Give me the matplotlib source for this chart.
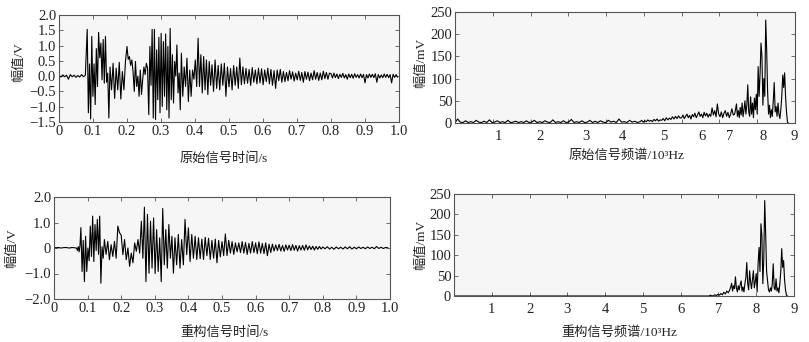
import numpy as np
import matplotlib
matplotlib.use("Agg")
import matplotlib.pyplot as plt

# ---------------- data ----------------
# Original time signal: segments (start, end) and extreme values (V)
tl_bounds = [0.0, 0.083, 0.15, 0.2, 0.264, 0.36, 0.45, 0.55, 0.66, 0.8, 1.0]
tl_seg0 = [0.02, -0.03, 0.04, -0.02, 0.03, -0.1, 0.05, -0.02, 0.03, -0.04, 0.02, -0.03, 0.05, -0.02, 0.03]
tl_seg1 = [1.53, -1.2, 0.4, -1.4, 1.3, -0.66, 0.4, -0.93, 0.9, -0.34, 1.43, 0.6, 1.08, -0.12, 1.2, -0.23, 1.3, -0.2, 0.1, -1.37]
tl_seg2 = [0.3, -0.45, 0.42, -0.73, 0.26, -0.45, 0.45, -0.75, 0.15, -0.45, 0.48]
tl_seg3 = [0.97, 0.55, 0.64, 0.35, 0.53, 0.15, -0.5, 0.48, -0.34, 0.0, -0.66, 0.2, -0.6, -0.1, 0.3, 0.05, 0.42, 0.26]
tl_seg4 = [-1.26, 0.97, -0.3, 1.53, -1.37, 1.53, -1.42, 0.86, -0.77, 1.27, -1.2, 1.4, -0.99, 1.13, -0.66,
           1.38, -1.1, 0.97, -1.37, 1.56, -0.77, 0.7, -0.88, 0.48, 0.0, 1.02, -0.55, 0.1, -1.1]
tl_seg5 = [0.75, -0.66, 0.3, -0.34, 0.59, -0.83, 0.2, -0.66, 0.2, -0.1, 0.53, -0.34, 1.24, -0.34, 0.7,
           -0.55, 0.64, -0.45, 0.53, -0.6, 0.48, -0.3]
tl_seg6 = [0.37, -0.5, 0.53, -0.4, 0.35, -0.45, 0.4, -0.3, 0.42, -0.66, 0.3, -0.35, 0.25, -0.45, 0.35,
           -0.3, 0.3, -0.4, 0.59, -0.28, 0.3, -0.25]
tl_seg7 = [0.25, -0.23, 0.22, -0.3, 0.28, -0.2, 0.2, -0.25, 0.26, -0.22, 0.24, -0.28, 0.2, -0.18, 0.26,
           -0.25, 0.22, -0.3, 0.18, -0.4, 0.2, -0.15, 0.22, -0.2]
tl_seg8 = [0.15, -0.18, 0.12, -0.15, 0.18, -0.1, 0.14, -0.16, 0.1, -0.12, 0.16, -0.14, 0.12, -0.2, 0.15,
           -0.1, 0.13, -0.15, 0.1, -0.12, 0.18, -0.1, 0.12, -0.14, 0.1, -0.12, 0.16, -0.08, 0.12, -0.1, 0.1]
tl_seg9 = [0.08, -0.06, 0.1, -0.05, 0.07, -0.08, 0.06, -0.04, 0.09, -0.06, 0.05, -0.1, 0.07, -0.05, 0.06,
           -0.07, 0.08, -0.04, 0.05, -0.06, 0.07, -0.05, 0.06, -0.22, 0.05, -0.06, 0.07, -0.04, 0.06, -0.05,
           0.08, -0.2, 0.05, -0.06, 0.04, -0.05, 0.07, -0.04, 0.06, -0.05, 0.05, -0.22, 0.06, -0.04, 0.05, -0.03]
tl_segs = [tl_seg0, tl_seg1, tl_seg2, tl_seg3, tl_seg4, tl_seg5, tl_seg6, tl_seg7, tl_seg8, tl_seg9]

# Reconstructed time signal
bl_bounds = [0.0, 0.067, 0.08, 0.15, 0.26, 0.36, 0.43, 0.55, 0.66, 0.8, 1.0]
bl_seg0 = [0.02, 0.01, 0.02, 0.0, 0.01, 0.02, 0.01, 0.0, 0.02, 0.01]
bl_seg1 = [0.0, -0.1, 0.05, -0.15, 0.1]
bl_seg2 = [0.8, -0.92, 0.3, -1.32, 0.46, -0.92, 0.0, -0.5, 0.86, -0.33, 1.25, -0.53, 0.92, -0.1, 1.12,
           -0.25, 1.25, -1.38, 0.05, -0.4]
bl_seg3 = [0.33, -0.25, 0.26, -0.46, 0.13, -0.33, 0.26, -0.4, 0.86, 0.6, 0.5, -0.26, 0.33, -0.46, 0.0,
           -0.72, -0.2, -0.58, 0.2, -0.13, 0.33, -0.2]
bl_seg4 = [1.05, -0.4, 1.6, -1.32, 1.32, -0.99, 1.05, -0.79, 1.18, -1.0, 0.72, -0.92, 0.4, -1.32, 1.55,
           -0.66, 0.72, -0.79, 0.92, -0.4, 0.46, -0.99]
bl_seg5 = [0.4, -0.66, 0.53, -0.79, 0.33, -0.66, 1.12, -0.26, 0.79, -0.53, 0.53, -0.4, 0.46, -0.45]
bl_seg6 = [0.4, -0.42, 0.35, -0.45, 0.42, -0.3, 0.38, -0.45, 0.3, -0.4, 0.35, -0.58, 0.3, -0.35, 0.25,
           -0.3, 0.55, -0.3, 0.3, -0.2, 0.25, -0.25, 0.2, -0.15]
bl_seg7 = [0.2, -0.18, 0.25, -0.2, 0.22, -0.25, 0.18, -0.2, 0.25, -0.18, 0.2, -0.22, 0.24, -0.2, 0.18,
           -0.22, 0.2, -0.3, 0.15, -0.18, 0.15, -0.12]
bl_seg8 = [0.12, -0.1, 0.14, -0.12, 0.1, -0.13, 0.12, -0.08, 0.11, -0.1, 0.13, -0.09, 0.1, -0.12, 0.09,
           -0.08, 0.1, -0.09, 0.12, -0.07, 0.08, -0.06, 0.07, -0.08, 0.06, -0.05, 0.06, -0.04]
bl_seg9 = [0.04, -0.03, 0.05, -0.04, 0.03, -0.05, 0.04, -0.03, 0.03, -0.04, 0.04, -0.03, 0.05, -0.04,
           0.03, -0.03, 0.04, -0.02, 0.03, -0.03, 0.04, -0.02, 0.03, -0.03, 0.06, -0.02, 0.03, -0.02, 0.02, 0.01]
bl_segs = [bl_seg0, bl_seg1, bl_seg2, bl_seg3, bl_seg4, bl_seg5, bl_seg6, bl_seg7, bl_seg8, bl_seg9]

# Original spectrum (kHz, mV)
tr_bounds = [0.0, 4.9, 6.0, 7.4, 8.85]
tr_segA = [1, 9, 2, 1, 5, 1, 3, 1, 6, 2, 1, 4, 1, 7, 1, 2, 5, 1, 3, 1, 6, 1, 2, 4, 1, 3, 1, 5, 1, 2, 6, 1,
           3, 1, 5, 2, 1, 7, 1, 3, 1, 5, 1, 2, 8, 1, 3, 1, 5, 1, 2, 6, 1, 4, 1, 5, 2, 1, 6, 2, 4, 1, 9, 2,
           3, 1, 6, 2, 4, 1]
tr_segB = [3, 6, 2, 5, 3, 7, 4, 6, 3, 8, 5, 9, 4, 7, 6, 10, 5, 12, 7, 11, 8, 14, 9, 15, 10, 16, 11]
tr_segC = [12, 18, 10, 15, 20, 12, 17, 9, 19, 14, 22, 12, 18, 25, 15, 20, 12, 24, 16, 22, 13, 20, 15, 34,
           18, 28, 14, 43, 20, 14, 25, 12, 22, 28, 15, 24, 12, 20, 32, 18]
tr_segD = [20, 30, 43, 15, 28, 12, 35, 18, 45, 14, 30, 50, 20, 40, 86, 25, 15, 59, 20, 45, 12, 56, 30, 65,
           20, 127, 60, 110, 180, 150, 40, 100, 60, 232, 165, 70, 20, 40, 12, 30, 15, 50, 91, 25, 37, 15,
           45, 20, 10, 30, 60, 108, 80, 113, 60, 25, 2, 0]
tr_segs = [tr_segA, tr_segB, tr_segC, tr_segD]
tr_tick_vals = [1, 2, 3, 4, 5, 6, 7, 8, 9]
tr_label_pos = [1.16, 2.25, 3.47, 4.44, 5.53, 6.53, 7.27, 8.15, 8.99]

# Reconstructed spectrum
br_bounds = [0.0, 6.75, 7.3, 8.85]
br_segA = [0, 0, 0, 0, 0, 0, 0, 0, 0, 0]
br_segB = [0, 2, 0, 1, 3, 1, 4, 2, 6, 3, 9, 5, 12, 8]
br_segC = [15, 22, 31, 12, 25, 18, 47, 20, 10, 25, 15, 28, 37, 12, 22, 10, 30, 45, 82, 30, 15, 62, 35, 18,
           40, 62, 20, 35, 55, 10, 80, 119, 60, 177, 148, 30, 90, 234, 152, 60, 37, 15, 10, 20, 12, 30, 79,
           20, 15, 42, 12, 20, 8, 30, 60, 116, 70, 87, 40, 15, 2, 0]
br_segs = [br_segA, br_segB, br_segC]


def build(bounds, segs):
    xs, ys = [], []
    for a, b, v in zip(bounds[:-1], bounds[1:], segs):
        xs.append(np.linspace(a, b, len(v), endpoint=False))
        ys.append(np.asarray(v, float))
    return np.concatenate(xs), np.concatenate(ys)


# ---------------- style ----------------
FAM = ['Liberation Serif', 'Noto Sans CJK SC', 'DejaVu Sans']
plt.rcParams['font.family'] = FAM
plt.rcParams['axes.unicode_minus'] = True
TXT = '#222222'
FS = 10.5
LFS = 9.5
BG = '#f6f6f6'

fig = plt.figure(figsize=(8.09, 3.42), dpi=100)
fig.patch.set_facecolor('white')

ax_tl = fig.add_axes([59/809, 1-122/342, 340/809, 107/342])
ax_bl = fig.add_axes([54/809, 1-299/342, 336/809, 102/342])
ax_tr = fig.add_axes([455/809, 1-123/342, 340/809, 111/342])
ax_br = fig.add_axes([454/809, 1-296/342, 340/809, 102/342])


def style(ax):
    ax.set_facecolor(BG)
    for s in ax.spines.values():
        s.set_color('#555555')
        s.set_linewidth(0.8)
    ax.tick_params(direction='in', length=3, width=0.6, color='#555555',
                   top=True, right=True, labelsize=FS, labelcolor=TXT, pad=2)


# top-left
t, v = build(tl_bounds, tl_segs)
ax_tl.plot(t, v, color='black', lw=0.8)
ax_tl.set_xlim(0, 1.0)
ax_tl.set_ylim(-1.5, 2.0)
tl_xt = [0, 0.1, 0.2, 0.3, 0.4, 0.5, 0.6, 0.7, 0.8, 0.9, 1.0]
tl_xl = ['0', '0.1', '0.2', '0.3', '0.4', '0.5', '0.6', '0.7', '0.8', '0.9', '1.0']
ax_tl.set_xticks(tl_xt, tl_xl)
tl_yt = [-1.5, -1.0, -0.5, 0.0, 0.5, 1.0, 1.5, 2.0]
ax_tl.set_yticks(tl_yt, ['\u22121.5', '\u22121.0', '\u22120.5', '0.0', '0.5', '1.0', '1.5', '2.0'])
style(ax_tl)
ax_tl.set_xlabel('原始信号时间/s', fontsize=LFS, color=TXT, va='center')
ax_tl.xaxis.set_label_coords(0.485, -0.34)
ax_tl.set_ylabel('幅值/V', fontsize=LFS, color=TXT, va='center')
ax_tl.yaxis.set_label_coords(-0.118, 0.56)

# bottom-left
t, v = build(bl_bounds, bl_segs)
ax_bl.plot(t, v, color='black', lw=0.8)
ax_bl.set_xlim(0, 1.0)
ax_bl.set_ylim(-2.0, 2.0)
ax_bl.set_xticks(tl_xt, tl_xl)
ax_bl.set_yticks([-2, -1, 0, 1, 2], ['\u22122.0', '\u22121.0', '0', '1.0', '2.0'])
style(ax_bl)
ax_bl.set_xlabel('重构信号时间/s', fontsize=LFS, color=TXT, va='center')
ax_bl.xaxis.set_label_coords(0.506, -0.33)
ax_bl.set_ylabel('幅值/V', fontsize=LFS, color=TXT, va='center')
ax_bl.yaxis.set_label_coords(-0.125, 0.5)

# top-right
f, a = build(tr_bounds, tr_segs)
ax_tr.plot(f, a, color='black', lw=0.8)
ax_tr.set_xlim(0, 9)
ax_tr.set_ylim(0, 250)
ax_tr.set_xticks(tr_tick_vals, [''] * len(tr_tick_vals))
ax_tr.set_xticks(tr_label_pos, [str(k) for k in tr_tick_vals], minor=True)
ax_tr.set_yticks([0, 50, 100, 150, 200, 250])
style(ax_tr)
ax_tr.tick_params(axis='x', which='minor', length=0, labelsize=FS, labelcolor=TXT, pad=5,
                  top=False)
ax_tr.set_xlabel('原始信号频谱/10³Hz', fontsize=LFS, color=TXT, va='center')
ax_tr.xaxis.set_label_coords(0.503, -0.29)
ax_tr.set_ylabel('幅值/mV', fontsize=LFS, color=TXT, va='center')
ax_tr.yaxis.set_label_coords(-0.1, 0.54)

# bottom-right
f, a = build(br_bounds, br_segs)
ax_br.plot(f, a, color='black', lw=0.8)
ax_br.set_xlim(0, 9)
ax_br.set_ylim(0, 250)
ax_br.set_xticks(tr_tick_vals)
ax_br.set_yticks([0, 50, 100, 150, 200, 250])
style(ax_br)
ax_br.tick_params(axis='x', pad=5)
ax_br.set_xlabel('重构信号频谱/10³Hz', fontsize=LFS, color=TXT, va='center')
ax_br.xaxis.set_label_coords(0.485, -0.36)
ax_br.set_ylabel('幅值/mV', fontsize=LFS, color=TXT, va='center')
ax_br.yaxis.set_label_coords(-0.098, 0.5)

fig.savefig('out.png', dpi=100, facecolor='white')
